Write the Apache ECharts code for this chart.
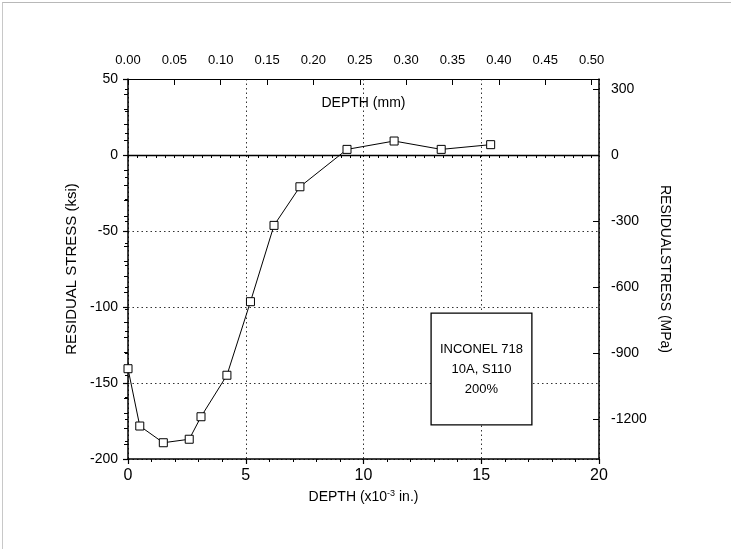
<!DOCTYPE html>
<html>
<head>
<meta charset="utf-8">
<script src="https://cdn.jsdelivr.net/npm/echarts@6/dist/echarts.min.js"></script>
<style>
html,body{margin:0;padding:0;background:#fff;}
#c{width:731px;height:549px;}
#edge{position:absolute;left:2px;top:2px;width:729px;height:547px;border-top:1px solid #b8b8b8;border-left:1px solid #c8c8c8;pointer-events:none;}
</style>
</head>
<body>
<div id="c"></div>
<div id="edge"></div>
<script>
// Depth in 10^-3 in.
const depthMils = [0, 0.5, 1.5, 2.6, 3.1, 4.2, 5.2, 6.2, 7.3, 9.3, 11.3, 13.3, 15.4];
// Residual stress in ksi
const stressKsi = [-140.6, -178.3, -189.3, -187, -172.2, -144.9, -96.5, -46.3, -20.9, 3.7, 9.2, 3.7, 6.8];

const mmLabels = [0, 0.05, 0.10, 0.15, 0.20, 0.25, 0.30, 0.35, 0.40, 0.45, 0.50];
const mmMinorTicks = [0,0.01,0.02,0.03,0.04,0.05,0.06,0.07,0.08,0.09,0.10,0.11,0.12,0.13,0.14,0.15,0.16,0.17,0.18,0.19,0.20,0.21,0.22,0.23,0.24,0.25,0.26,0.27,0.28,0.29,0.30,0.31,0.32,0.33,0.34,0.35,0.36,0.37,0.38,0.39,0.40,0.41,0.42,0.43,0.44,0.45,0.46,0.47,0.48,0.49,0.50];
const mpaLabels = [-1200, -900, -600, -300, 0, 300];
const mpaMinorTicks = [-1300,-1200,-1100,-1000,-900,-800,-700,-600,-500,-400,-300,-200,-100,0,100,200,300];
const legendLines = ['INCONEL 718', '10A, S110', '200%'];

const KSI_TO_MPA = 6.894757;
const MILS_TO_MM = 0.0254;
const X_MIN = 0, X_MAX = 20, Y_MIN = -200, Y_MAX = 50;

const FONT = '"Liberation Sans", Arial, sans-serif';
const data = depthMils.map((d, i) => [d, stressKsi[i]]);

const chart = echarts.init(document.getElementById('c'));
chart.setOption({
  animation: false,
  backgroundColor: '#fff',
  textStyle: {fontFamily: FONT, color: '#000'},
  grid: {left: 128, top: 79, right: 132, bottom: 90},
  xAxis: [
    {
      type: 'value', position: 'bottom', min: X_MIN, max: X_MAX, interval: 5,
      name: 'DEPTH (x10{sup|-3} in.)', nameLocation: 'middle', nameGap: 21,
      nameTextStyle: {fontSize: 14, color: '#000', fontFamily: FONT,
        rich: {sup: {fontSize: 9, verticalAlign: 'top', padding: [0, 0, 8, 0], color: '#000'}}},
      axisLine: {onZero: false, lineStyle: {color: '#000', width: 1.5}},
      axisTick: {inside: false, length: 5, lineStyle: {color: '#000', width: 1.2}},
      minorTick: {show: true, splitNumber: 5, length: 3, lineStyle: {color: '#000'}},
      axisLabel: {fontSize: 16, color: '#000', margin: 9, fontFamily: FONT},
      splitLine: {show: true, lineStyle: {color: '#333', type: [1.5, 3], width: 1}}
    },
    {
      type: 'value', position: 'top', min: 0, max: X_MAX * MILS_TO_MM,
      name: 'DEPTH (mm)', nameLocation: 'middle', nameGap: -31,
      nameTextStyle: {fontSize: 14, color: '#000', fontFamily: FONT},
      axisLine: {onZero: false, lineStyle: {color: '#000', width: 1.2}},
      axisTick: {inside: true, length: 6, customValues: mmLabels, lineStyle: {color: '#000'}},
      axisLabel: {fontSize: 13, color: '#000', margin: 12, fontFamily: FONT,
        customValues: mmLabels, formatter: v => v.toFixed(2)},
      splitLine: {show: false}
    },
    {
      type: 'value', position: 'top', min: 0, max: X_MAX * MILS_TO_MM,
      axisLine: {show: false},
      axisTick: {inside: true, length: 3, customValues: mmMinorTicks, lineStyle: {color: '#000'}},
      axisLabel: {show: false},
      splitLine: {show: false}
    }
  ],
  yAxis: [
    {
      type: 'value', position: 'left', min: Y_MIN, max: Y_MAX, interval: 50,
      name: 'RESIDUAL STRESS (ksi)', nameLocation: 'middle', nameGap: 36,
      nameTextStyle: {fontSize: 15, color: '#000', fontFamily: FONT},
      axisLine: {show: true, onZero: false, lineStyle: {color: '#000', width: 1.5}},
      axisTick: {inside: false, length: 5, lineStyle: {color: '#000', width: 1.2}},
      minorTick: {show: true, splitNumber: 5, length: 4, lineStyle: {color: '#000'}},
      axisLabel: {fontSize: 14, color: '#000', margin: 10, fontFamily: FONT},
      splitLine: {show: true, lineStyle: {color: '#333', type: [1.5, 3], width: 1}}
    },
    {
      type: 'value', position: 'right', min: Y_MIN * KSI_TO_MPA, max: Y_MAX * KSI_TO_MPA,
      name: 'RESIDUALSTRESS (MPa)', nameLocation: 'middle', nameGap: 57, nameRotate: -90,
      nameTextStyle: {fontSize: 14, color: '#000', fontFamily: FONT},
      axisLine: {show: true, onZero: false, lineStyle: {color: '#000', width: 1.5}},
      axisTick: {inside: true, length: 6, customValues: mpaLabels, lineStyle: {color: '#000'}},
      axisLabel: {fontSize: 14, color: '#000', margin: 12, fontFamily: FONT,
        customValues: mpaLabels, formatter: v => String(v)},
      splitLine: {show: false}
    },
    {
      type: 'value', position: 'right', min: Y_MIN * KSI_TO_MPA, max: Y_MAX * KSI_TO_MPA,
      axisLine: {show: false},
      axisTick: {inside: true, length: 3, customValues: mpaMinorTicks, lineStyle: {color: '#000'}},
      axisLabel: {show: false},
      splitLine: {show: false}
    }
  ],
  series: [
    {
      type: 'line', xAxisIndex: 0, yAxisIndex: 0, data: data,
      symbol: 'rect', symbolSize: 8, showSymbol: true,
      lineStyle: {color: '#000', width: 1},
      itemStyle: {color: '#fff', borderColor: '#000', borderWidth: 1},
      z: 5,
      markLine: {
        silent: true, symbol: ['none', 'none'], label: {show: false},
        lineStyle: {color: '#000', type: 'solid', width: 1.3},
        data: [{yAxis: 0}]
      },
      markArea: {
        silent: true,
        itemStyle: {color: '#fff', borderColor: '#000', borderWidth: 1.3},
        label: {show: true, position: 'inside', color: '#000', fontSize: 13, lineHeight: 20,
          fontFamily: FONT, formatter: legendLines.join('\n')},
        data: [[{coord: [12.87, -104]}, {coord: [17.15, -177.6]}]]
      }
    }
  ]
});
</script>
</body>
</html>
